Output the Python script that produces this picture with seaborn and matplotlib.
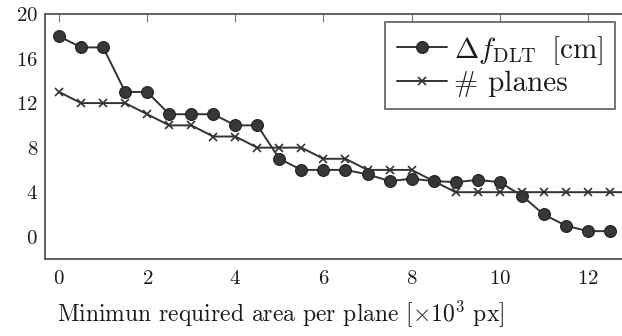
import matplotlib
matplotlib.use("Agg")
import matplotlib.pyplot as plt
import seaborn as sns

# data
area = [0, 0.5, 1, 1.5, 2, 2.5, 3, 3.5, 4, 4.5, 5, 5.5, 6, 6.5, 7, 7.5, 8, 8.5, 9, 9.5,
        10, 10.5, 11, 11.5, 12, 12.5]
delta_f = [18, 17, 17, 13, 13, 11, 11, 11, 10, 10, 7, 6, 6, 6, 5.6, 5.0, 5.2, 5.0, 4.9, 5.1,
           4.9, 3.7, 2.0, 1.0, 0.5, 0.5]
area_planes = area + [13]
planes = [13, 12, 12, 12, 11, 10, 10, 9, 9, 8, 8, 8, 7, 7, 6, 6, 6, 5, 4, 4,
          4, 4, 4, 4, 4, 4, 4]

sns.set_style("white")
plt.rcParams["font.family"] = ["cmr10", "DejaVu Serif"]
plt.rcParams["mathtext.fontset"] = "cm"
plt.rcParams["axes.formatter.use_mathtext"] = True

fig = plt.figure(figsize=(6.22, 3.36), dpi=100)
ax = fig.add_axes([45 / 622, 1 - 259 / 336, 1.03 - 45 / 622, (259 - 14) / 336])

line_col = "#333333"
sns.lineplot(x=area, y=delta_f, ax=ax, color=line_col, marker="o", markersize=8.5,
             markerfacecolor="#383838", markeredgecolor="#1e1e1e", markeredgewidth=0.8,
             linewidth=1.4, label=r"$\Delta f_{\mathrm{DLT}}\,$ [cm]")
sns.lineplot(x=area_planes, y=planes, ax=ax, color=line_col, marker="x", markersize=6,
             markeredgecolor="#333333", markeredgewidth=1.2,
             linewidth=1.4, label="# planes")

ax.set_xlim(-0.32, 13.2)
ax.set_ylim(-2, 20)
ax.set_xticks([0, 2, 4, 6, 8, 10, 12])
ax.set_yticks([0, 4, 8, 12, 16, 20])
ax.tick_params(direction="in", length=6, width=0.8, color="#777777",
               top=True, right=True, labelsize=15, labelcolor="#1a1a1a", pad=5)
ax.tick_params(axis="x", pad=8)
for s in ax.spines.values():
    s.set_color("#555555")
    s.set_linewidth(1.3)

ax.set_xlabel(r"Minimun required area per plane [$\times 10^3$ px]", fontsize=17,
              color="#1a1a1a", labelpad=9)
ax.xaxis.set_label_coords(0.396, -0.16)
ax.set_ylabel("")

leg = ax.legend(loc="upper right", bbox_to_anchor=(0.957, 0.967), fontsize=21,
                frameon=True, fancybox=False, edgecolor="#444444",
                handlelength=1.7, handletextpad=0.25, borderpad=0.4, labelspacing=0.15,
                borderaxespad=0.0)
leg.get_frame().set_linewidth(1.3)
for t in leg.get_texts():
    t.set_color("#1a1a1a")

fig.savefig("out.png", dpi=100)
